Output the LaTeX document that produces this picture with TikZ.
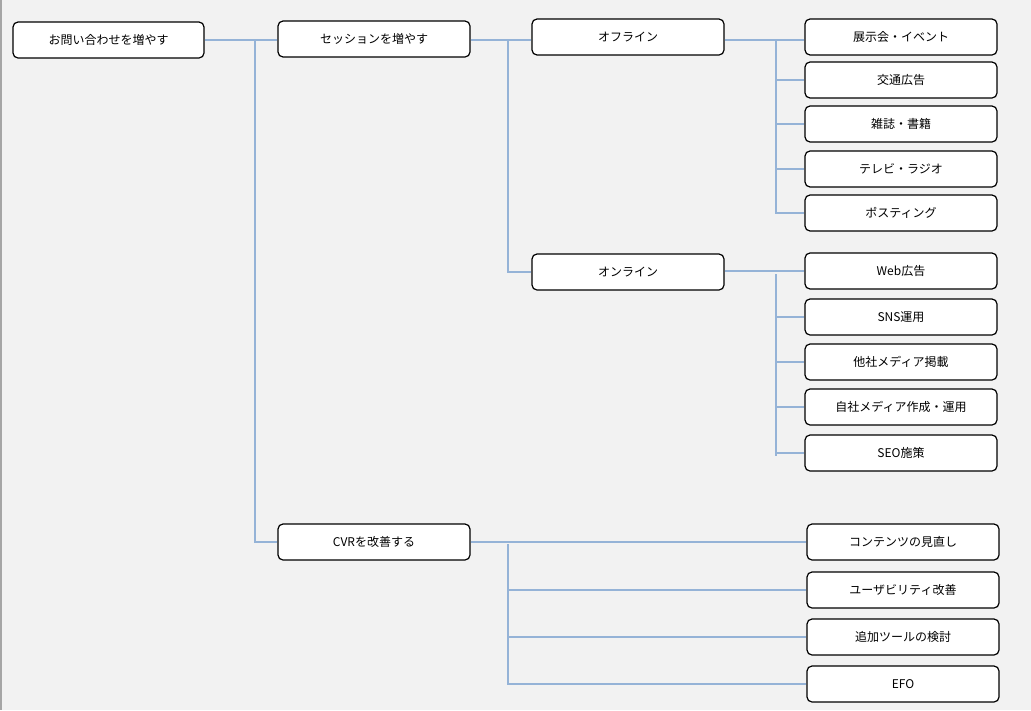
\documentclass[tikz,border=0pt]{standalone}
\usepackage{fontspec}
\setmainfont{Noto Sans CJK JP}
\begin{document}
\begin{tikzpicture}[x=1pt,y=-1pt,
  box/.style={draw=black,line width=1.2pt,fill=white,rounded corners=5pt,
    minimum width=192pt,minimum height=36pt,inner sep=0pt,
    font=\fontsize{12}{14}\selectfont},
  conn/.style={draw=lineblue,line width=2.2pt}]
\definecolor{bgc}{HTML}{F2F2F2}
\definecolor{lineblue}{HTML}{95B3D7}
\fill[bgc] (0,0) rectangle (1031,710);
\useasboundingbox (0,0) rectangle (1031,710);
\draw[gray!70,line width=1.5pt] (0.75,0) -- (0.75,710);
% nodes
\node[box,minimum width=191pt] (A) at (108.5,40) {お問い合わせを増やす};
\node[box] (B) at (374,39) {セッションを増やす};
\node[box] (C) at (374,542) {CVRを改善する};
\node[box] (D) at (628,37) {オフライン};
\node[box] (E) at (628,272) {オンライン};
\node[box] (d1) at (901,37) {展示会・イベント};
\node[box] (d2) at (901,80) {交通広告};
\node[box] (d3) at (901,124) {雑誌・書籍};
\node[box] (d4) at (901,169) {テレビ・ラジオ};
\node[box] (d5) at (901,213) {ポスティング};
\node[box] (e1) at (901,271) {Web広告};
\node[box] (e2) at (901,317) {SNS運用};
\node[box] (e3) at (901,362) {他社メディア掲載};
\node[box] (e4) at (901,407) {自社メディア作成・運用};
\node[box] (e5) at (901,453) {SEO施策};
\node[box] (c1) at (903,542) {コンテンツの見直し};
\node[box] (c2) at (903,590) {ユーザビリティ改善};
\node[box] (c3) at (903,637) {追加ツールの検討};
\node[box] (c4) at (903,684) {EFO};
% junctions
\coordinate (jA) at (255,40);
\coordinate (jB) at (508,40);
\coordinate (jD) at (776,40);
\coordinate (jE) at (776,274);
\coordinate (jC) at (508,544);
% connectors
\draw[conn] (A.east |- jA) -- (B.west |- jA);
\draw[conn] (jA) |- (C.west);
\draw[conn] (B.east |- jB) -- (D.west |- jB);
\draw[conn] (jB) |- (E.west);
\draw[conn] (D.east |- jD) -- (d1.west |- jD);
\draw[conn] (jD) |- (d2.west);
\draw[conn] (jD) |- (d3.west);
\draw[conn] (jD) |- (d4.west);
\draw[conn] (jD) |- (d5.west);
\draw[conn] (E.east |- e1.west) -- (e1.west);
\draw[conn] (jE) |- (e2.west);
\draw[conn] (jE) |- (e3.west);
\draw[conn] (jE) |- (e4.west);
\draw[conn] (jE) |- (e5.west);
\draw[conn] (jE) -- ++(0,182);
\draw[conn] (C.east) -- (c1.west);
\draw[conn] (jC) |- (c2.west);
\draw[conn] (jC) |- (c3.west);
\draw[conn] (jC) |- (c4.west);
\end{tikzpicture}
\end{document}
